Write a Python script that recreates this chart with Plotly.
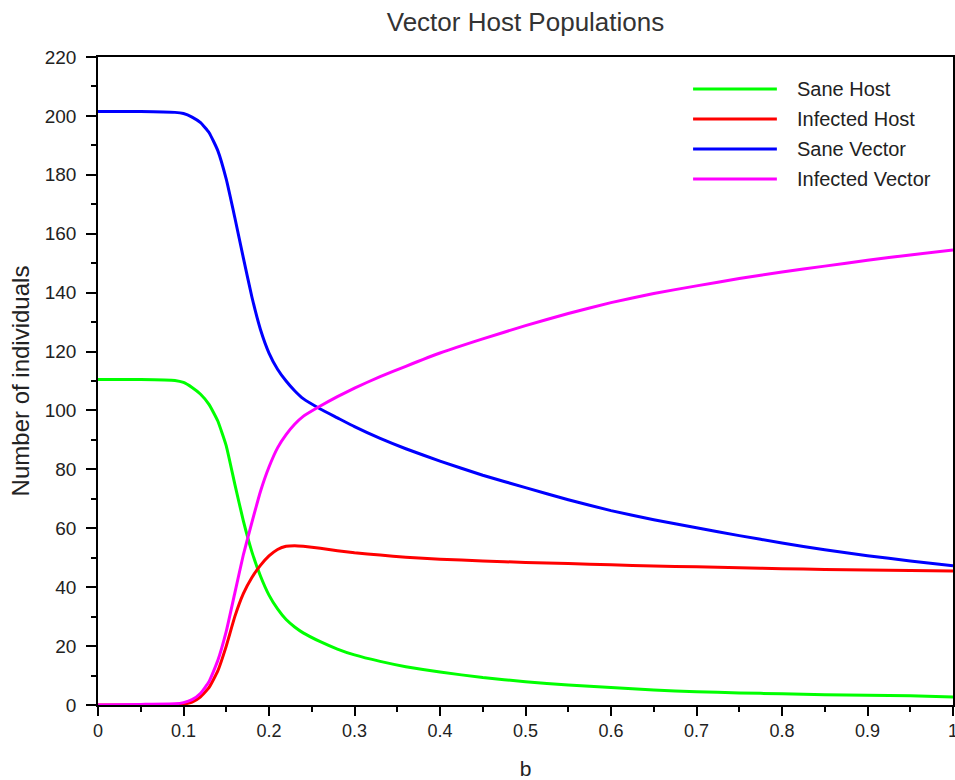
import plotly.graph_objects as go

# ---- data ----
b = [0, 0.05, 0.09, 0.1, 0.11, 0.12, 0.13, 0.14, 0.15, 0.16, 0.17, 0.18, 0.19,
     0.2, 0.21, 0.22, 0.23, 0.24, 0.26, 0.28, 0.3, 0.33, 0.36, 0.4, 0.45, 0.5,
     0.55, 0.6, 0.65, 0.7, 0.75, 0.8, 0.85, 0.9, 0.95, 1.0]

sane_host = [110.5, 110.5, 110.2, 109.5, 107.8, 105.5, 102, 96.5, 88, 75, 62.5, 52, 43.8,
             37.3, 32.6, 29, 26.5, 24.5, 21.5, 19, 17, 14.8, 13, 11.2, 9.3, 7.9,
             6.8, 5.9, 5.1, 4.5, 4.1, 3.8, 3.5, 3.3, 3.1, 2.7]

infected_host = [0, 0, 0.1, 0.3, 1, 2.8, 6, 11.5, 20, 30, 37.8, 43.3, 47.4,
                 50.6, 52.8, 53.9, 54.1, 53.9, 53.2, 52.4, 51.7, 50.9, 50.2, 49.5, 48.9, 48.4,
                 48, 47.6, 47.2, 46.9, 46.6, 46.3, 46, 45.8, 45.7, 45.5]

sane_vector = [201.5, 201.5, 201.2, 200.8, 199.6, 197.7, 194.3, 188.3, 178.5, 165.5, 151.8, 138.5, 127.5,
               119.5, 114, 110, 106.7, 104, 100.5, 97.5, 94.5, 90.5, 87, 82.8, 78, 73.8,
               69.7, 66.0, 62.9, 60.2, 57.5, 55, 52.7, 50.7, 48.9, 47.3]

infected_vector = [0, 0.2, 0.4, 0.8, 1.8, 4, 8, 15, 25, 38, 51, 62, 72.5,
                   80.8, 87.3, 91.8, 95.3, 98, 101.5, 104.7, 107.6, 111.5, 115, 119.5, 124.3, 128.8,
                   132.9, 136.6, 139.7, 142.3, 144.8, 147, 149, 151, 152.8, 154.5]

series_names = ["Sane Host", "Infected Host", "Sane Vector", "Infected Vector"]
series_values = [sane_host, infected_host, sane_vector, infected_vector]
series_colors = ["#00ff00", "#ff0000", "#0000ff", "#ff00ff"]

x_ticks = [0, 0.1, 0.2, 0.3, 0.4, 0.5, 0.6, 0.7, 0.8, 0.9, 1]
x_tick_labels = ["0", "0.1", "0.2", "0.3", "0.4", "0.5", "0.6", "0.7", "0.8", "0.9", "1"]
y_ticks = list(range(0, 221, 20))

FONT = "Liberation Sans, Arial, sans-serif"

W, H = 955, 780

fig = go.Figure()
for name, vals, col in zip(series_names, series_values, series_colors):
    fig.add_trace(go.Scatter(x=b, y=vals, mode="lines", name=name,
                             line=dict(color=col, width=3, shape="spline", smoothing=0.4),
                             showlegend=False))

# custom legend (long line samples like the original)
leg_y = [0.9506, 0.9043, 0.858, 0.8117]
for name, col, yy in zip(series_names, series_colors, leg_y):
    fig.add_shape(type="line", xref="paper", yref="paper",
                  x0=0.696, x1=0.794, y0=yy, y1=yy,
                  line=dict(color=col, width=3))
    fig.add_annotation(xref="paper", yref="paper", x=0.815, y=yy,
                       xanchor="left", yanchor="middle", text=name, showarrow=False,
                       font=dict(family=FONT, size=20, color="#222222"))

fig.update_layout(
    width=W, height=H,
    margin=dict(l=98, r=2, t=57, b=75),
    paper_bgcolor="white", plot_bgcolor="white",
    title=dict(text="Vector Host Populations", x=0.5, xref="paper",
               y=1 - 22 / H, yref="container", yanchor="middle",
               font=dict(family=FONT, size=26, color="#333333")),
    font=dict(family=FONT, color="#222222"),
)

fig.update_xaxes(range=[0, 1], tickmode="array", tickvals=x_ticks, ticktext=x_tick_labels,
                 ticks="outside", ticklen=9, tickwidth=1.5, tickcolor="black",
                 minor=dict(ticks="outside", dtick=0.05, ticklen=5, tickwidth=1.5, tickcolor="black"),
                 showline=True, linecolor="black", linewidth=1.5, mirror=True,
                 showgrid=False, zeroline=False, ticklabeloverflow="allow", automargin=False,
                 tickfont=dict(family=FONT, size=18, color="#222222"),
                 title=dict(text="b", font=dict(family=FONT, size=21, color="#222222"), standoff=22))

fig.update_yaxes(range=[0, 220], tickmode="array", tickvals=y_ticks,
                 ticks="outside", ticklen=10, tickwidth=1.5, tickcolor="black",
                 minor=dict(ticks="outside", dtick=10, ticklen=5, tickwidth=1.5, tickcolor="black"),
                 showline=True, linecolor="black", linewidth=1.5, mirror=True,
                 showgrid=False, zeroline=False, ticklabelstandoff=6, automargin=False,
                 tickfont=dict(family=FONT, size=19, color="#222222"),
                 title=dict(text="Number of individuals", font=dict(family=FONT, size=24, color="#222222"),
                            standoff=8))

fig.write_html("out.html", config={"displayModeBar": False},
               post_script="document.body.style.margin='0';document.body.style.overflow='hidden';")
